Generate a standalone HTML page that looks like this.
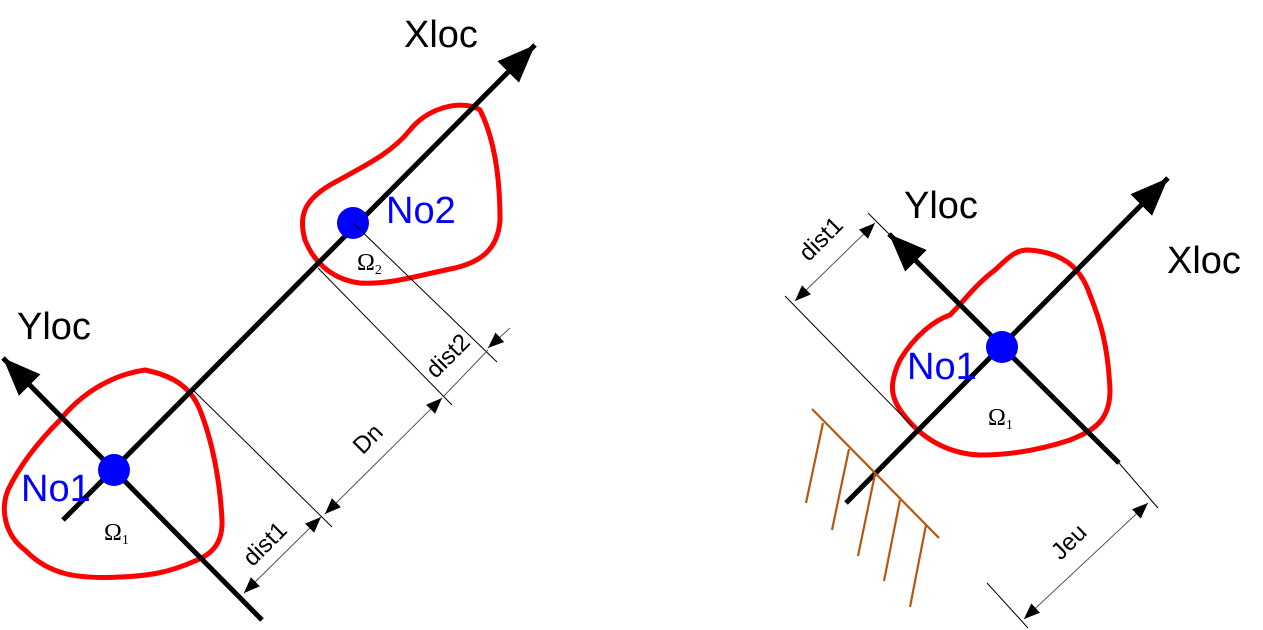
<!DOCTYPE html>
<html><head><meta charset="utf-8"><style>
html,body{margin:0;padding:0;background:#fff;}
svg{display:block;}
text{font-family:"Liberation Sans",sans-serif;}
.om{font-family:"Liberation Serif",serif;font-size:24px;}
.dim{font-size:24px;}
</style></head><body>
<svg width="1263" height="630" viewBox="0 0 1263 630" xmlns="http://www.w3.org/2000/svg">
<defs>
<marker id="ah" viewBox="0 0 10 10" refX="10" refY="5" markerWidth="16" markerHeight="16" orient="auto-start-reverse" markerUnits="userSpaceOnUse"><path d="M0,1 L10,5 L0,9Z" fill="#000"/></marker>
<marker id="big" viewBox="0 0 10 10" refX="10" refY="5" markerWidth="38" markerHeight="38" orient="auto" markerUnits="userSpaceOnUse"><path d="M0,1 L10,5 L0,9Z" fill="#000"/></marker>
</defs>
<!-- LEFT -->
<path d="M145,370 C170,375 190,385 200,410 C212,440 220,480 222,520 C223,545 210,555 195,561 C170,572 150,576 120,577 C80,579 50,576 25,550 C5,535 0,510 8,490 C20,465 40,440 60,420 C80,395 110,375 145,370Z" fill="none" stroke="#f00" stroke-width="5"/>
<path d="M480,110 C495,140 500,180 500,220 C498,250 480,262 455,268 C420,275 390,285 360,283 C335,280 315,265 305,240 C298,215 305,200 330,185 C360,168 390,155 410,130 C430,105 465,100 480,110Z" fill="none" stroke="#f00" stroke-width="5"/>
<line x1="63" y1="520" x2="535" y2="45" stroke="#000" stroke-width="5" marker-end="url(#big)"/>
<line x1="262" y1="620" x2="3" y2="358" stroke="#000" stroke-width="5" marker-end="url(#big)"/>
<circle cx="114" cy="470" r="16" fill="#00f"/>
<circle cx="353" cy="223" r="16" fill="#00f"/>
<text x="404" y="47" font-size="38">Xloc</text>
<text x="17" y="339" font-size="38">Yloc</text>
<text x="21" y="501" font-size="38" fill="#00f">No1</text>
<text x="386" y="223" font-size="38" fill="#00f">No2</text>
<text x="104" y="540" class="om">Ω<tspan font-size="14" dy="4">1</tspan></text>
<text x="357" y="270" class="om">Ω<tspan font-size="14" dy="4">2</tspan></text>
<g stroke="#000" stroke-width="1" fill="none">
<line x1="193" y1="390" x2="332" y2="527"/>
<line x1="318" y1="268" x2="452" y2="405"/>
<line x1="353" y1="223" x2="497" y2="362"/>
<line x1="244" y1="593" x2="321" y2="517" marker-start="url(#ah)" marker-end="url(#ah)" stroke="#555"/>
<line x1="325" y1="514" x2="442" y2="398" marker-start="url(#ah)" marker-end="url(#ah)" stroke="#555"/>
<line x1="443" y1="397" x2="488" y2="350" stroke="#555"/>
<line x1="510" y1="328" x2="488" y2="348" marker-end="url(#ah)" stroke="#555"/>
</g>
<text class="dim" transform="translate(266,545) rotate(-45)" text-anchor="middle" dominant-baseline="middle">dist1</text>
<text class="dim" transform="translate(369,440) rotate(-45)" text-anchor="middle" dominant-baseline="middle">Dn</text>
<text class="dim" transform="translate(449,357) rotate(-45)" text-anchor="middle" dominant-baseline="middle">dist2</text>
<!-- RIGHT -->
<path d="M1028,250 C1060,252 1080,265 1090,295 C1100,320 1108,345 1110,390 C1110,420 1095,430 1070,440 C1040,450 1010,455 980,455 C950,454 925,440 908,420 C890,400 888,385 900,360 C915,335 935,320 950,315 C965,300 975,285 995,270 C1008,258 1015,250 1028,250Z" fill="none" stroke="#f00" stroke-width="5"/>
<line x1="846" y1="503" x2="1168" y2="178" stroke="#000" stroke-width="5" marker-end="url(#big)"/>
<line x1="1119" y1="463" x2="889" y2="234" stroke="#000" stroke-width="5" marker-end="url(#big)"/>
<circle cx="1002" cy="347" r="16" fill="#00f"/>
<text x="1167" y="273" font-size="38">Xloc</text>
<text x="904" y="218" font-size="38">Yloc</text>
<text x="907" y="379" font-size="38" fill="#00f">No1</text>
<text x="988" y="425" class="om">Ω<tspan font-size="14" dy="4">1</tspan></text>
<g stroke="#b8560f" stroke-width="2.2">
<line x1="812" y1="409" x2="939" y2="538"/>
<line x1="823" y1="423" x2="806" y2="503"/>
<line x1="849" y1="449" x2="832" y2="530"/>
<line x1="875" y1="474" x2="858" y2="556"/>
<line x1="900" y1="500" x2="884" y2="581"/>
<line x1="926" y1="525" x2="910" y2="607"/>
</g>
<g stroke="#000" stroke-width="1" fill="none">
<line x1="785" y1="296" x2="913" y2="427"/>
<line x1="868" y1="213" x2="892" y2="237"/>
<line x1="795" y1="301" x2="875" y2="223" marker-start="url(#ah)" marker-end="url(#ah)" stroke="#555"/>
<line x1="1119" y1="463" x2="1158" y2="508"/>
<line x1="987" y1="583" x2="1028" y2="628"/>
<line x1="1024" y1="619" x2="1148" y2="503" marker-start="url(#ah)" marker-end="url(#ah)" stroke="#555"/>
</g>
<text class="dim" transform="translate(822,240) rotate(-45)" text-anchor="middle" dominant-baseline="middle">dist1</text>
<text class="dim" transform="translate(1070,543) rotate(-45)" text-anchor="middle" dominant-baseline="middle">Jeu</text>
</svg>
</body></html>
